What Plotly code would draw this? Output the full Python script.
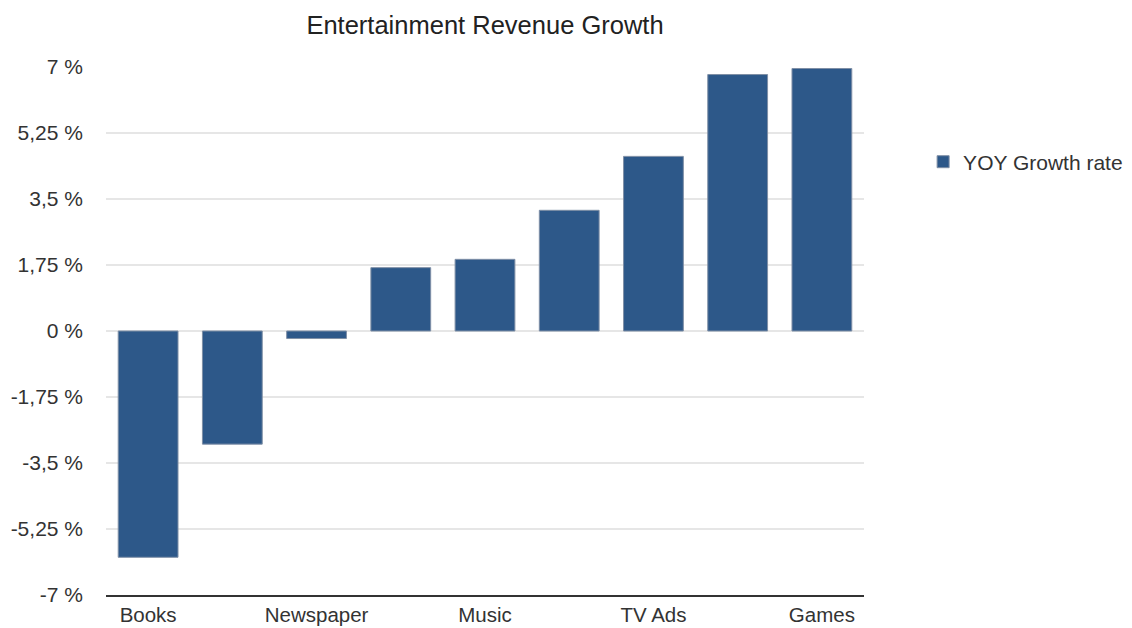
import plotly.graph_objects as go

categories = ["Books", "Magazines", "Newspaper", "Radio", "Music", "Cinema", "TV Ads", "Internet Ads", "Games"]
growth = [-6.0, -3.0, -0.2, 1.68, 1.9, 3.2, 4.63, 6.8, 6.96]
shown_labels = ["Books", "Newspaper", "Music", "TV Ads", "Games"]
y_ticks = [-7, -5.25, -3.5, -1.75, 0, 1.75, 3.5, 5.25, 7]
y_tick_text = ["-7 %", "-5,25 %", "-3,5 %", "-1,75 %", "0 %", "1,75 %", "3,5 %", "5,25 %", "7 %"]
series_name = "YOY Growth rate"

FONT = "Liberation Sans, Arial, Helvetica, sans-serif"

fig = go.Figure()
fig.add_trace(go.Bar(
    x=categories, y=growth, name=series_name,
    marker=dict(color="#2d5889", line=dict(color="#7f8fa6", width=1)),
    showlegend=True,
))

fig.update_layout(
    width=1132, height=628,
    margin=dict(l=106, r=268, t=67, b=33, autoexpand=False),
    paper_bgcolor="white", plot_bgcolor="white",
    font=dict(family=FONT, size=21, color="#333333"),
    title=dict(text="Entertainment Revenue Growth", x=(106 + 864) / 2 / 1132, xanchor="center",
               y=1 - 25 / 628, yanchor="middle",
               font=dict(family=FONT, size=25.5, color="#222222")),
    bargap=0.29,
    showlegend=True,
    legend=dict(x=1.078, xanchor="left", y=0.82, yanchor="middle",
                font=dict(family=FONT, size=21, color="#333333"),
                bgcolor="rgba(0,0,0,0)"),
)
fig.update_xaxes(
    type="category", tickvals=shown_labels, ticktext=shown_labels,
    showgrid=False, showline=True, linecolor="#333333", linewidth=2,
    ticks="", ticklabelstandoff=0, automargin=False,
    tickfont=dict(family=FONT, size=20.5, color="#333333"),
)
fig.update_yaxes(
    range=[-7, 7], tickvals=y_ticks, ticktext=y_tick_text,
    showgrid=True, gridcolor="#e6e6e6", gridwidth=2,
    zeroline=True, zerolinecolor="#e6e6e6", zerolinewidth=2,
    showline=False, ticks="", ticklabelstandoff=22, automargin=False,
    tickfont=dict(family=FONT, size=21, color="#333333"),
)

fig.write_html("out.html")
